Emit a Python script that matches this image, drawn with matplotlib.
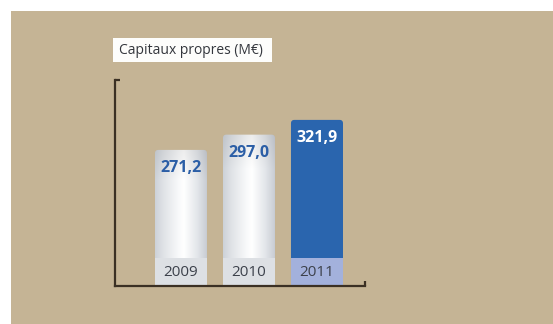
import numpy as np
import matplotlib
matplotlib.use("Agg")
import matplotlib.pyplot as plt
from matplotlib.patches import Rectangle, FancyBboxPatch
from matplotlib.colors import LinearSegmentedColormap

# Capitaux propres, en millions d'euros
years = ["2009", "2010", "2011"]
equity = [271.2, 297.0, 321.9]
labels = ["271,2", "297,0", "321,9"]

BG = "#c5b495"
AXIS = "#3b3024"
BLUE = "#2a65ae"
LABEL_BLUE = "#2b5ea6"
BAND_GREY = "#dde0e4"
BAND_BLUE = "#a3b1dc"
YEAR_TXT = "#3c414b"

plt.rcParams["font.family"] = ["Open Sans", "DejaVu Sans"]

fig = plt.figure(figsize=(5.53, 3.24), dpi=100, facecolor="white")
W, H = 553, 324

# beige panel with a thin white margin on the top and left
fig.patches.append(Rectangle((11 / W, -0.02), 1, (H - 11) / H + 0.02,
                             transform=fig.transFigure,
                             facecolor=BG, edgecolor="none", zorder=-5))

ax = fig.add_axes([115 / W, 1 - 286 / H, 250 / W, 206 / H])
ax.set_facecolor("none")
base = 43.0
for s in ["top", "right"]:
    ax.spines[s].set_visible(False)
for s in ["left", "bottom"]:
    ax.spines[s].set_color(AXIS)
    ax.spines[s].set_linewidth(1.6)
ax.set_xticks([])
ax.set_yticks([])

# little hooks at the ends of the axes
ax.plot([0, 0.018], [1, 1], transform=ax.transAxes, color=AXIS, lw=1.6,
        solid_capstyle="butt", clip_on=False)
ax.plot([1, 1], [0, 0.025], transform=ax.transAxes, color=AXIS, lw=1.6,
        solid_capstyle="butt", clip_on=False)

width = 0.765
band_h = 45.6
x = np.arange(len(years))
# x and y units per pixel, used to keep the corner rounding circular
aspect = (348.0 / 206) / (3.676 / 250)

# cylinder shading: soft grey edges, bright band left of centre,
# a touch greyer towards the top
cyl = LinearSegmentedColormap.from_list(
    "cyl", [(0.0, "#cdd2d8"), (0.15, "#dfe2e6"), (0.45, "#f9fafb"),
            (0.55, "#ffffff"), (0.8, "#e3e6ea"), (1.0, "#c6cad1")])
horiz = cyl(np.linspace(0, 1, 128))[:, :3]
vert = np.ones(128)
vert[-30:] = np.linspace(1.0, 0.93, 30)
shade = horiz[None, :, :] * vert[:, None, None]

bars = ax.bar(x, np.array(equity) - base, bottom=base, width=width,
              color="none", edgecolor="none")

for i, rect in enumerate(bars):
    x0 = rect.get_x()
    top = rect.get_y() + rect.get_height()
    shape = FancyBboxPatch((x0, base), width, top - base,
                           boxstyle="round,pad=0,rounding_size=0.05",
                           mutation_aspect=aspect, facecolor="none",
                           edgecolor="none")
    ax.add_patch(shape)
    if i == len(years) - 1:
        shape.set_facecolor(BLUE)
        band_col = BAND_BLUE
        txt_col = "white"
    else:
        im = ax.imshow(shade, aspect="auto", interpolation="bilinear", origin="lower",
                       extent=[x0, x0 + width, base, top], zorder=1)
        im.set_clip_path(shape)
        band_col = BAND_GREY
        txt_col = LABEL_BLUE
    ax.add_patch(Rectangle((x0, base), width, band_h, facecolor=band_col,
                           edgecolor="none", zorder=2))
    ax.text(x[i], base + band_h / 2 - 1.5, years[i], ha="center", va="center",
            fontsize=11, color=YEAR_TXT, zorder=3)
    ax.annotate(labels[i], (x[i], top), xytext=(0, -13), textcoords="offset points",
                ha="center", va="center", fontsize=11.5, fontweight="bold",
                color=txt_col, zorder=3)

ax.set_xlim(-0.97, 2.706)
ax.set_ylim(41.3, 389.3)

# title in a white box
fig.patches.append(Rectangle((113 / W, 1 - 62 / H), 159 / W, 24 / H,
                             transform=fig.transFigure, facecolor="#fdfdfb",
                             edgecolor="none", zorder=1))
fig.text(119 / W, 1 - 50 / H, "Capitaux propres (M€)", ha="left", va="center",
         fontsize=10, color="#33363c", zorder=2)

fig.savefig("out.png", dpi=100, facecolor=fig.get_facecolor())
